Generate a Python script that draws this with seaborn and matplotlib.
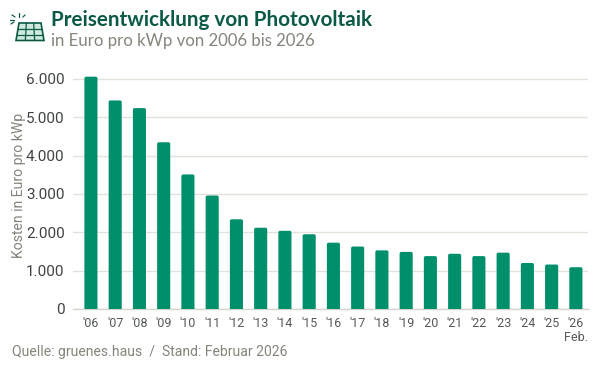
import matplotlib
matplotlib.use('Agg')
import matplotlib.pyplot as plt
import pandas as pd
import seaborn as sns
from matplotlib.patches import FancyBboxPatch, Polygon

# values
jahre = ["'06", "'07", "'08", "'09", "'10", "'11", "'12", "'13", "'14", "'15", "'16",
         "'17", "'18", "'19", "'20", "'21", "'22", "'23", "'24", "'25", "'26\nFeb."]
kosten = [6060, 5440, 5240, 4350, 3510, 2960, 2340, 2120, 2040, 1950, 1730,
          1630, 1530, 1490, 1380, 1440, 1380, 1470, 1200, 1160, 1090]
y_ticks = [0, 1000, 2000, 3000, 4000, 5000, 6000]
y_labels = ['0', '1.000', '2.000', '3.000', '4.000', '5.000', '6.000']

GREEN = '#008f6b'
DARK = '#0b5a46'
GRAY = '#85857b'
GRID = '#e2e2da'

sns.set_theme(style='white')
plt.rcParams['font.family'] = ['Roboto', 'DejaVu Sans']

df = pd.DataFrame({'jahr': jahre, 'kosten': kosten})

fig = plt.figure(figsize=(6, 3.65), dpi=100)
ax = fig.add_axes([73 / 600, 1 - 309 / 365, 515 / 600, 234 / 365])
sns.barplot(data=df, x='jahr', y='kosten', color=GREEN, saturation=1, width=0.54, ax=ax, zorder=3)

# rounded top corners, bottom is cut by the axes
ax.set_xlim(-0.74, 20.5)
ax.set_ylim(0, 6104)
for bar in list(ax.patches):
    x, w, h = bar.get_x(), bar.get_width(), bar.get_height()
    aspect = (6104 / 234) / (21.24 / 515)
    pad = 0.07
    rounded = FancyBboxPatch((x + pad, -300), w - 2 * pad, h + 300 - pad * aspect,
                             boxstyle=f'round,pad={pad},rounding_size={pad}',
                             mutation_aspect=aspect, fc=GREEN, ec='none', zorder=3)
    ax.add_patch(rounded)
    bar.remove()

ax.set_yticks(y_ticks)
ax.set_yticklabels(y_labels, fontsize=11, color='#3f4443')
ax.tick_params(axis='x', labelsize=9, labelcolor='#55595a', length=0, pad=6)
ax.tick_params(axis='y', length=0, pad=6)
for lab in ax.get_xticklabels():
    lab.set_linespacing(1.05)
ax.grid(axis='y', color=GRID, lw=1, zorder=0)
ax.set_axisbelow(True)
sns.despine(ax=ax, left=True, top=True, right=True)
ax.spines['bottom'].set_color('#d5d5cd')
ax.spines['bottom'].set_linewidth(1)
ax.set_xlabel('')
ax.set_ylabel('Kosten in Euro pro kWp', fontsize=10.1, color=GRAY)
ax.yaxis.set_label_coords(-47 / 515, (309 - 185) / 234)

# header
fig.text(51 / 600, 1 - 26 / 365, 'Preisentwicklung von Photovoltaik', fontsize=14.9,
         fontweight='bold', family=['Lato', 'DejaVu Sans'], color=DARK, va='baseline')
fig.text(51 / 600, 1 - 46 / 365, 'in Euro pro kWp von 2006 bis 2026', fontsize=12.1,
         family=['Lato', 'DejaVu Sans'], color=GRAY, va='baseline')
fig.text(12 / 600, 1 - 356 / 365, 'Quelle: gruenes.haus  /  Stand: Februar 2026', fontsize=10.05,
         color=GRAY, va='baseline')

# solar panel icon
icon = fig.add_axes([0, 1 - 48 / 365, 48 / 600, 48 / 365])
icon.set_xlim(0, 48)
icon.set_ylim(48, 0)
icon.axis('off')
icon.add_patch(Polygon([[19, 23], [41, 23], [44, 40.5], [16, 40.5]], closed=True, fc='#cfe8dd', ec=DARK, lw=1.2))
for t in (1 / 3, 2 / 3):
    icon.plot([19 + 22 * t, 16 + 28 * t], [23, 40.5], color=DARK, lw=0.9)
icon.plot([18, 42], [29, 29], color=DARK, lw=0.9)
icon.plot([17, 43], [35, 35], color=DARK, lw=0.9)
for x0, y0, x1, y1 in [(10, 20, 14, 20), (12, 15, 15, 17), (19, 13, 19, 17), (25, 15, 23, 17), (11, 24, 14, 22)]:
    icon.plot([x0, x1], [y0, y1], color=DARK, lw=0.9)

fig.savefig('out.png', dpi=100, facecolor='white')
